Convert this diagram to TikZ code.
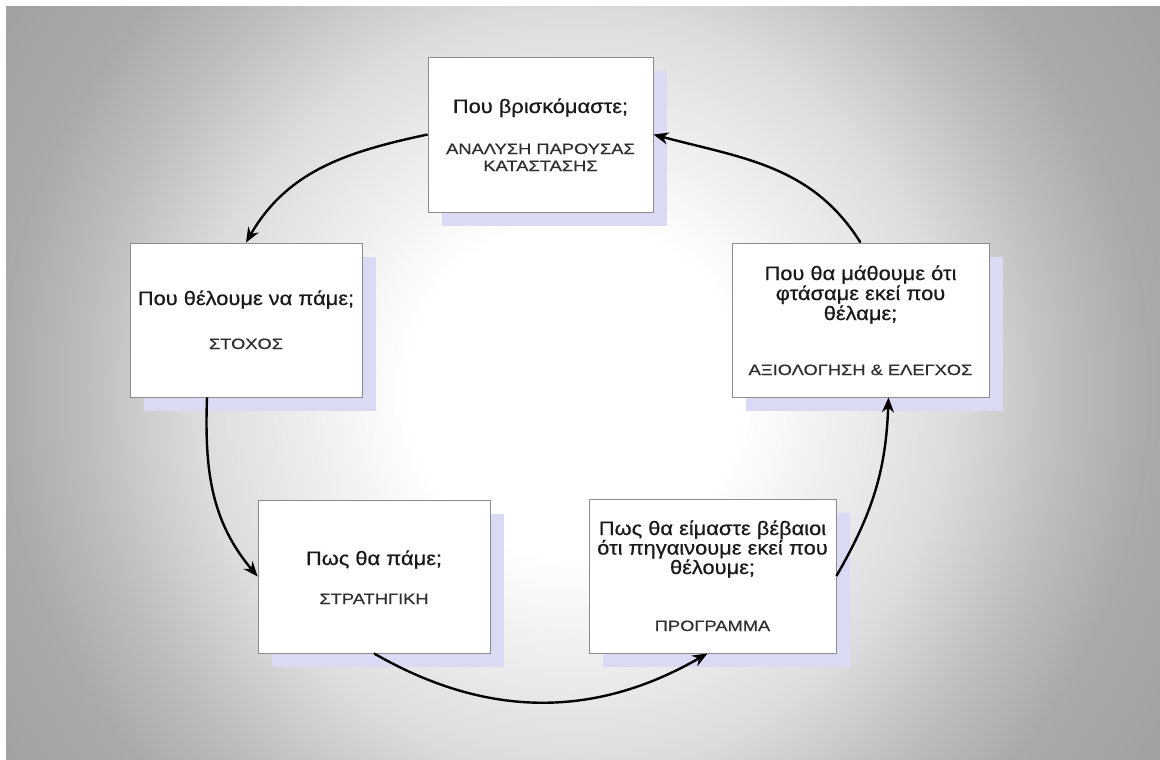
\documentclass[tikz,border=0pt]{standalone}
\usepackage{fontspec}
\setmainfont{Liberation Sans}
\newfontfamily\hdfont[FakeStretch=1.12,FakeBold=0.6]{Liberation Sans}
\newfontfamily\sbfont[FakeStretch=1.22,FakeBold=0.4]{Liberation Sans}
\usetikzlibrary{arrows.meta,shadows}
\definecolor{bgA}{HTML}{FFFFFF}
\definecolor{bgB}{HTML}{DCDCDC}
\definecolor{bgC}{HTML}{BDBDBD}
\definecolor{bgD}{HTML}{AAAAAA}
\definecolor{bgE}{HTML}{A0A0A0}
\definecolor{shadowcol}{HTML}{DADAF4}
\definecolor{boxline}{HTML}{8C8C8C}
\definecolor{txt}{HTML}{1A1A1A}
\definecolor{txtsub}{HTML}{2E2E2E}
\pgfdeclareradialshading{bgshade}{\pgfpoint{0bp}{0bp}}{color(0bp)=(bgA); color(6bp)=(bgA); color(13.5bp)=(bgB); color(17.5bp)=(bgC); color(20.5bp)=(bgD); color(25bp)=(bgE); color(50bp)=(bgE)}
\tikzset{
  box/.style={draw=boxline, line width=0.8pt, fill=white, inner sep=0pt,
    general shadow={fill=shadowcol, shadow xshift=14pt, shadow yshift=-14pt}},
  hd/.style={font=\hdfont\fontsize{19.5}{20}\selectfont, text=txt, anchor=base, inner sep=0pt},
  sb/.style={font=\sbfont\fontsize{15}{16}\selectfont, text=txtsub, anchor=base, inner sep=0pt},
  conn/.style={line width=2.4pt, -{Stealth[length=15pt,width=12pt]}}
}
\begin{document}
\begin{tikzpicture}[x=1pt,y=1pt]
\useasboundingbox (0,0) rectangle (1160,-760);
\fill[white] (0,0) rectangle (1160,-760);
\begin{scope}
  \clip (6,-7) rectangle (1160,-760);
  \fill[shading=bgshade] (-125,310) rectangle (1275,-1090);
\end{scope}
% boxes
\node[box, minimum width=225pt, minimum height=155pt] (top) at (540.5,-134.5) {};
\node[box, minimum width=232pt, minimum height=154pt] (left) at (246,-320) {};
\node[box, minimum width=257pt, minimum height=154pt] (right) at (860.5,-320) {};
\node[box, minimum width=232pt, minimum height=153pt] (bl) at (374,-576.5) {};
\node[box, minimum width=247pt, minimum height=154pt] (br) at (712.5,-576) {};
% connectors
\draw[conn] (top.west) to[out=192,in=60] (left.north);
\draw[conn] ([xshift=-39pt]left.south) to[out=268,in=130] (bl.west);
\draw[conn] (bl.south) to[out=-30,in=210] ([xshift=-5pt]br.south);
\draw[conn] (br.east) to[out=60,in=268] ([xshift=28pt]right.south);
\draw[conn] (right.north) to[out=122,in=-15] (top.east);
% texts
\node[hd] (t1h) at (540.5,-113) {Που βρισκόμαστε;};
\node[sb] (t1a) at (540.5,-154) {ΑΝΑΛΥΣΗ ΠΑΡΟΥΣΑΣ};
\node[sb] (t1b) at (540.5,-171) {ΚΑΤΑΣΤΑΣΗΣ};
\node[hd] (t2h) at (246,-305) {Που θέλουμε να πάμε;};
\node[sb] (t2a) at (246,-349) {ΣΤΟΧΟΣ};
\node[hd] (t3h) at (860.5,-280) {Που θα μάθουμε ότι};
\node[hd] (t3i) at (860.5,-300) {φτάσαμε εκεί που};
\node[hd] (t3j) at (860.5,-320) {θέλαμε;};
\node[sb] (t3a) at (860.5,-375) {ΑΞΙΟΛΟΓΗΣΗ \& ΕΛΕΓΧΟΣ};
\node[hd] (t4h) at (374,-565) {Πως θα πάμε;};
\node[sb] (t4a) at (374,-604) {ΣΤΡΑΤΗΓΙΚΗ};
\node[hd] (t5h) at (712.5,-535) {Πως θα είμαστε βέβαιοι};
\node[hd] (t5i) at (712.5,-554.5) {ότι πηγαινουμε εκεί που};
\node[hd] (t5j) at (712.5,-574) {θέλουμε;};
\node[sb] (t5a) at (712.5,-631) {ΠΡΟΓΡΑΜΜΑ};
\end{tikzpicture}
\end{document}
